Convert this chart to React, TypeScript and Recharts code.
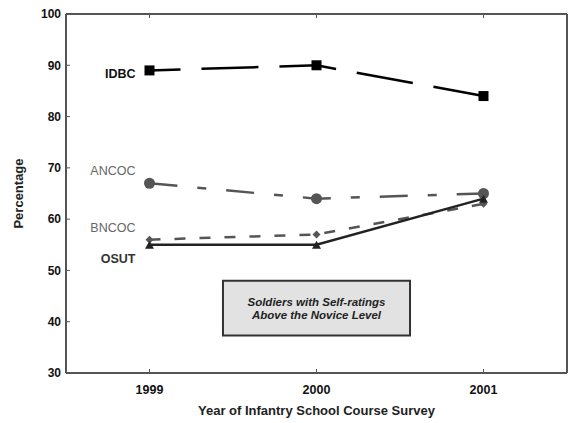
import React from 'react';
import { LineChart, Line, XAxis, YAxis, ReferenceArea, Label } from 'recharts';

const years = [1999, 2000, 2001];
const idbc = [89, 90, 84];
const ancoc = [67, 64, 65];
const bncoc = [56, 57, 63];
const osut = [55, 55, 64];
const yTicks = [30, 40, 50, 60, 70, 80, 90, 100];
const boxLines = ['Soldiers with Self-ratings', 'Above the Novice Level'];
const boxX = [1999.44, 2000.56];
const boxY = [37.3, 48];

const data = years.map((year, i) => ({
  year,
  IDBC: idbc[i],
  ANCOC: ancoc[i],
  BNCOC: bncoc[i],
  OSUT: osut[i],
}));

const FONT = '"Liberation Sans", Arial, sans-serif';
const FRAME = '#555';

// series name drawn beside the first point
const seriesLabel = (name: string, cx: number, cy: number, dy: number, color: string, weight: number) => (
  <text x={cx - 14} y={cy + dy} textAnchor="end" dominantBaseline="central" fontSize={12.5} fontWeight={weight} fill={color} fontFamily={FONT}>
    {name}
  </text>
);

const squareDot = (p: any) => (
  <g key={`idbc-${p.index}`}>
    <rect x={p.cx - 5} y={p.cy - 5} width={10} height={10} fill="#000" />
    {p.index === 0 && seriesLabel('IDBC', p.cx, p.cy, 4, '#111', 700)}
  </g>
);

const circleDot = (p: any) => (
  <g key={`ancoc-${p.index}`}>
    <circle cx={p.cx} cy={p.cy} r={5.5} fill="#555" />
    {p.index === 0 && seriesLabel('ANCOC', p.cx, p.cy, -12, '#666', 400)}
  </g>
);

const diamondDot = (p: any) => (
  <g key={`bncoc-${p.index}`}>
    <path d={`M${p.cx},${p.cy - 4} L${p.cx + 4},${p.cy} L${p.cx},${p.cy + 4} L${p.cx - 4},${p.cy} Z`} fill="#555" />
    {p.index === 0 && seriesLabel('BNCOC', p.cx, p.cy, -12, '#666', 400)}
  </g>
);

const triangleDot = (p: any) => (
  <g key={`osut-${p.index}`}>
    <path d={`M${p.cx},${p.cy - 4} L${p.cx + 4.5},${p.cy + 4} L${p.cx - 4.5},${p.cy + 4} Z`} fill="#222" />
    {p.index === 0 && seriesLabel('OSUT', p.cx, p.cy, 14, '#333', 700)}
  </g>
);

const BoxText = (props: any) => {
  const vb = props.viewBox || {};
  const cx = vb.x + vb.width / 2;
  const cy = vb.y + vb.height / 2;
  return (
    <text x={cx} textAnchor="middle" fontSize={11.5} fontWeight={700} fontStyle="italic" fill="#222" fontFamily={FONT}>
      {boxLines.map((line, i) => (
        <tspan key={line} x={cx} y={cy - 2.5 + i * 13.5}>{line}</tspan>
      ))}
    </text>
  );
};

const tickStyle = { fontSize: 12.5, fontWeight: 700, fill: '#111', fontFamily: FONT };

export default function App() {
  return (
    <div style={{ position: 'absolute', left: 0, top: 0, background: '#fff' }}>
      <LineChart width={568} height={423} data={data} margin={{ top: 13, right: 0, bottom: 0, left: 0 }}>
        <XAxis
          dataKey="year"
          type="number"
          domain={[1998.5, 2001.5]}
          ticks={years}
          height={50}
          axisLine={{ stroke: FRAME, strokeWidth: 2 }}
          tickLine={{ stroke: FRAME }}
          tickSize={-4}
          tickMargin={16}
          tick={tickStyle}
        >
          <Label value="Year of Infantry School Course Survey" position="insideBottom" offset={8} style={{ fontSize: 13, fontWeight: 700, fill: '#222', fontFamily: FONT }} />
        </XAxis>
        <XAxis
          xAxisId="top"
          orientation="top"
          dataKey="year"
          type="number"
          domain={[1998.5, 2001.5]}
          ticks={years}
          height={1}
          axisLine={{ stroke: FRAME, strokeWidth: 2 }}
          tickLine={{ stroke: FRAME }}
          tickSize={-4}
          tickFormatter={() => ''}
        />
        <YAxis
          domain={[30, 100]}
          ticks={yTicks}
          width={66}
          axisLine={{ stroke: FRAME, strokeWidth: 2 }}
          tickLine={{ stroke: FRAME }}
          tickSize={-4}
          tickMargin={9}
          tick={{ ...tickStyle, fontSize: 12 }}
        >
          <Label value="Percentage" angle={-90} position="center" dx={-15} style={{ fontSize: 13, fontWeight: 700, fill: '#222', fontFamily: FONT }} />
        </YAxis>
        <YAxis
          yAxisId="right"
          orientation="right"
          domain={[30, 100]}
          ticks={yTicks}
          width={1}
          axisLine={{ stroke: FRAME, strokeWidth: 2 }}
          tickLine={{ stroke: FRAME }}
          tickSize={-4}
          tickFormatter={() => ''}
        />
        <ReferenceArea
          x1={boxX[0]}
          x2={boxX[1]}
          y1={boxY[0]}
          y2={boxY[1]}
          fill="#e2e2e2"
          fillOpacity={1}
          stroke="#333"
          strokeWidth={2}
          label={BoxText}
        />
        <Line
          dataKey="IDBC"
          stroke="#000"
          strokeWidth={2.5}
          strokeDasharray="57 21"
          strokeDashoffset={26}
          dot={squareDot}
          isAnimationActive={false}
        />
        <Line
          dataKey="ANCOC"
          stroke="#555"
          strokeWidth={2.5}
          strokeDasharray="28 20 9 20"
          dot={circleDot}
          isAnimationActive={false}
        />
        <Line
          dataKey="BNCOC"
          stroke="#555"
          strokeWidth={2.5}
          strokeDasharray="11 14"
          dot={diamondDot}
          isAnimationActive={false}
        />
        <Line
          dataKey="OSUT"
          stroke="#222"
          strokeWidth={2.5}
          dot={triangleDot}
          isAnimationActive={false}
        />
      </LineChart>
    </div>
  );
}
